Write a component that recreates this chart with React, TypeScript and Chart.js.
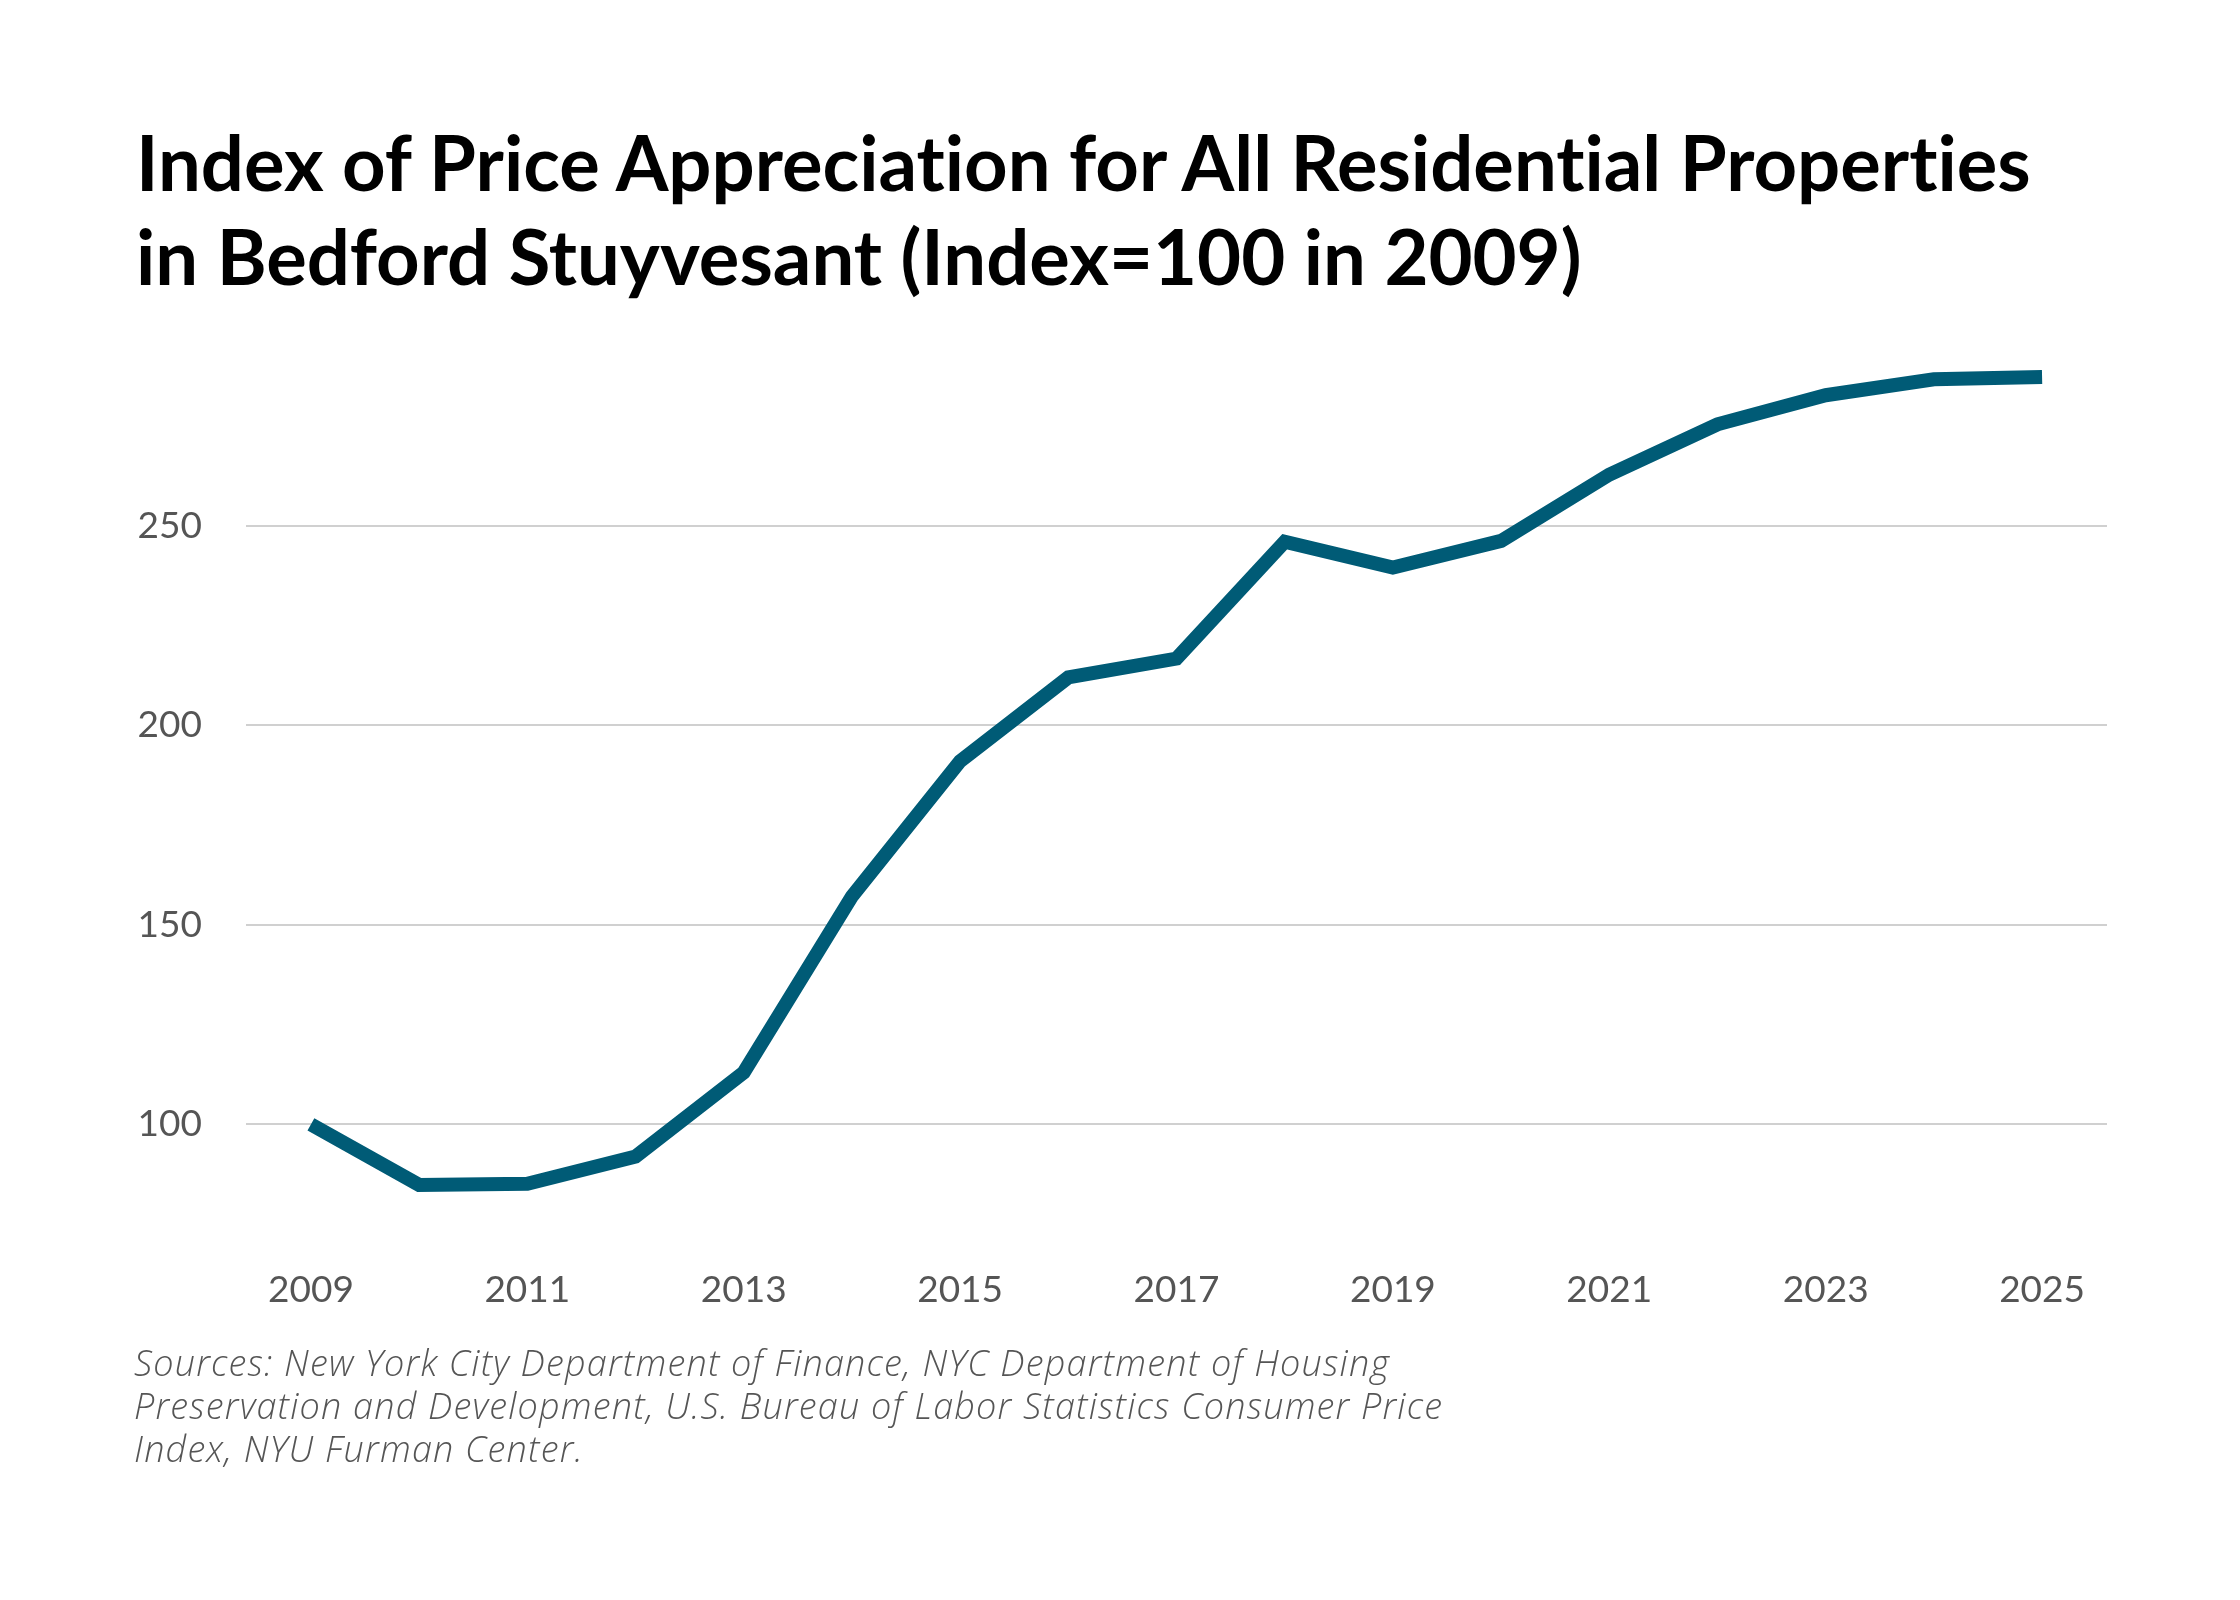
import { useEffect, useRef } from "react";
import Chart from "chart.js/auto";

const years = [
  2009, 2010, 2011, 2012, 2013, 2014, 2015, 2016, 2017, 2018, 2019, 2020, 2021, 2022, 2023, 2024, 2025,
];
const indexValues = [
  100, 84.8, 85.1, 91.9, 113, 157.1, 191, 212, 216.7, 246, 239.5, 246.2, 262.8, 275.4, 282.7, 286.7, 287.3,
];
const xTickYears = [2009, 2011, 2013, 2015, 2017, 2019, 2021, 2023, 2025];
const yTickValues = [100, 150, 200, 250];

const titleLines = [
  "Index of Price Appreciation for All Residential Properties",
  "in Bedford Stuyvesant (Index=100 in 2009)",
];
const sourceLines = [
  "Sources: New York City Department of Finance, NYC Department of Housing",
  "Preservation and Development, U.S. Bureau of Labor Statistics Consumer Price",
  "Index, NYU Furman Center.",
];

const LINE_COLOR = "#005b76";
const TICK_COLOR = "#555555";
const GRID_COLOR = "#d0d0d0";

function PriceChart() {
  const canvasRef = useRef<HTMLCanvasElement>(null);
  const chartRef = useRef<Chart | null>(null);

  useEffect(() => {
    if (!canvasRef.current) return;

    const points = years.map((year, i) => ({ x: year, y: indexValues[i] }));

    chartRef.current = new Chart(canvasRef.current, {
      type: "line",
      data: {
        datasets: [
          {
            label: "Index",
            data: points,
            borderColor: LINE_COLOR,
            borderWidth: 14,
            pointRadius: 0,
            pointHoverRadius: 0,
            tension: 0,
            fill: false,
          },
        ],
      },
      options: {
        responsive: false,
        animation: false,
        layout: {
          padding: { left: 0, right: 133, top: 28, bottom: 0 },
        },
        plugins: {
          legend: { display: false },
          tooltip: { enabled: false },
        },
        scales: {
          x: {
            type: "linear",
            min: 2008.4,
            max: 2025.6,
            grid: { display: false },
            border: { display: false },
            afterBuildTicks: (scale) => {
              scale.ticks = xTickYears.map((v) => ({ value: v }));
            },
            afterFit: (scale) => {
              scale.height = 100;
            },
            ticks: {
              color: TICK_COLOR,
              padding: 16,
              maxRotation: 0,
              font: { family: "Lato", size: 37 },
              callback: (value) => String(value),
            },
          },
          y: {
            min: 70,
            max: 300,
            border: { display: false },
            grid: { color: GRID_COLOR, lineWidth: 2, drawTicks: false },
            afterBuildTicks: (scale) => {
              scale.ticks = yTickValues.map((v) => ({ value: v }));
            },
            afterFit: (scale) => {
              scale.width = 246;
            },
            ticks: {
              color: TICK_COLOR,
              padding: 44,
              font: { family: "Lato", size: 37 },
              callback: (value) => String(value),
            },
          },
        },
      },
    });

    return () => {
      if (chartRef.current) {
        chartRef.current.destroy();
        chartRef.current = null;
      }
    };
  }, []);

  return (
    <canvas
      ref={canvasRef}
      width={2240}
      height={1084}
      style={{ position: "absolute", left: 0, top: 260, width: 2240, height: 1084 }}
    />
  );
}

export default function App() {
  return (
    <div
      style={{
        position: "fixed",
        left: 0,
        top: 0,
        width: 2240,
        height: 1600,
        background: "#ffffff",
        overflow: "hidden",
      }}
    >
      <div
        style={{
          position: "absolute",
          left: 136,
          top: 115,
          fontFamily: "Lato, sans-serif",
          fontWeight: 700,
          fontSize: 76,
          lineHeight: "94px",
          color: "#000000",
          whiteSpace: "nowrap",
          fontVariantLigatures: "none",
        }}
      >
        {titleLines.map((line) => (
          <div key={line}>{line}</div>
        ))}
      </div>
      <PriceChart />
      <div
        style={{
          position: "absolute",
          left: 134,
          top: 1341,
          fontFamily: "'Open Sans', sans-serif",
          fontStyle: "italic",
          fontWeight: 300,
          fontSize: 36,
          letterSpacing: "1.2px",
          lineHeight: "43px",
          color: "#555555",
          whiteSpace: "nowrap",
        }}
      >
        {sourceLines.map((line) => (
          <div key={line}>{line}</div>
        ))}
      </div>
    </div>
  );
}
